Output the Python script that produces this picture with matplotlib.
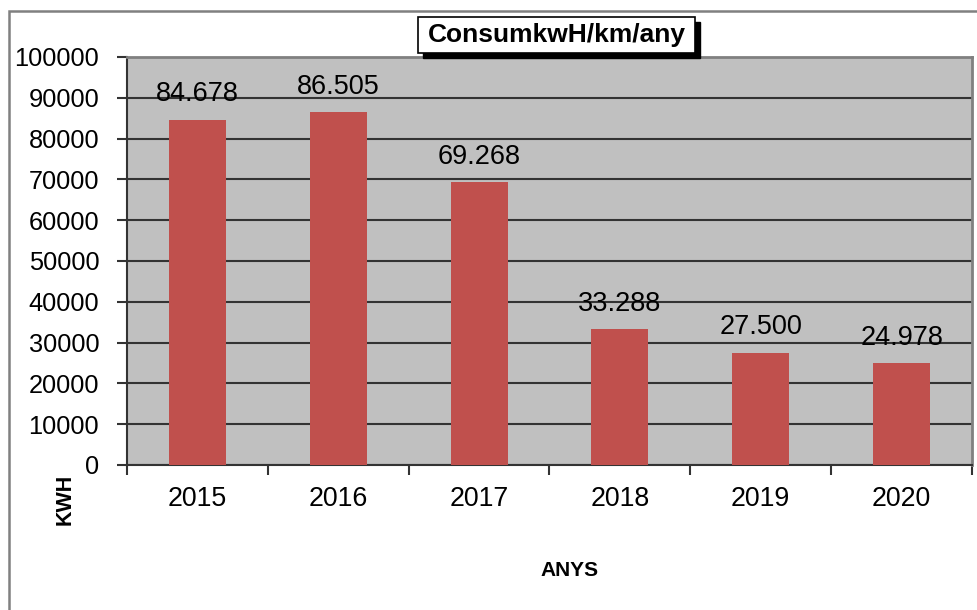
import matplotlib
matplotlib.use("Agg")
import matplotlib.pyplot as plt
from matplotlib.patches import Rectangle
import numpy as np

years = ["2015", "2016", "2017", "2018", "2019", "2020"]
values = [84678, 86505, 69268, 33288, 27500, 24978]
value_labels = ["84.678", "86.505", "69.268", "33.288", "27.500", "24.978"]
yticks = [0, 10000, 20000, 30000, 40000, 50000, 60000, 70000, 80000, 90000, 100000]

plt.rcParams['font.family'] = ['Liberation Sans', 'DejaVu Sans']

W, H = 978, 610
fig = plt.figure(figsize=(W / 100, H / 100), dpi=100)
fig.patch.set_facecolor('white')

# outer frame
fig.add_artist(Rectangle((9 / W, -0.05), 1.1, (H - 11) / H + 0.05, transform=fig.transFigure,
                         fill=False, edgecolor='#808080', linewidth=1.8))

left, right, top, bottom = 127, 972, 57, 465
ax = fig.add_axes([left / W, 1 - bottom / H, (right - left) / W, (bottom - top) / H])
ax.set_facecolor('#C0C0C0')

x = np.arange(len(years))
ax.bar(x, values, width=0.405, color='#C0504D', zorder=3)
for xi, v, lab in zip(x, values, value_labels):
    ax.annotate(lab, (xi, v), xytext=(0, 9), textcoords='offset points',
                ha='center', va='bottom', fontsize=19.5, color='black', zorder=4)

ax.set_xlim(-0.5, len(years) - 0.5)
ax.set_ylim(0, 100000)
ax.set_yticks(yticks)
ax.set_yticklabels([str(t) for t in yticks], fontsize=18.3)
ax.yaxis.grid(True, color='#333333', linewidth=1.5, zorder=1)
ax.set_axisbelow(True)

ax.set_xticks(x)
ax.set_xticklabels(years, fontsize=19.3)
ax.set_xticks(np.arange(-0.5, len(years)), minor=True)
ax.tick_params(axis='x', which='major', length=0, pad=15)
ax.tick_params(axis='x', which='minor', length=7, width=1.5, color='#333333')
ax.tick_params(axis='y', which='major', length=7, width=1.5, color='#333333', pad=13)

for s in ['top', 'right']:
    ax.spines[s].set_color('#808080')
    ax.spines[s].set_linewidth(2)
for s in ['left', 'bottom']:
    ax.spines[s].set_color('#333333')
    ax.spines[s].set_linewidth(1.5)

# axis labels
fig.text(65 / W, 1 - 499 / H, 'KWH', rotation=90, ha='center', va='center',
         fontsize=15.5, fontweight='bold')
fig.text(570 / W, 1 - 570 / H, 'ANYS', ha='center', va='center',
         fontsize=15, fontweight='bold')

# title box with shadow
bx0, by0, bx1, by1 = 418, 17, 695, 53
fig.add_artist(Rectangle(((bx0 + 5) / W, 1 - (by1 + 5) / H), (bx1 - bx0) / W, (by1 - by0) / H,
                         transform=fig.transFigure, facecolor='black', edgecolor='black', zorder=5))
fig.add_artist(Rectangle((bx0 / W, 1 - by1 / H), (bx1 - bx0) / W, (by1 - by0) / H,
                         transform=fig.transFigure, facecolor='white', edgecolor='black',
                         linewidth=1.2, zorder=6))
fig.text((bx0 + bx1) / 2 / W, 1 - (by0 + by1) / 2 / H, 'ConsumkwH/km/any', ha='center',
         va='center', fontsize=19, fontweight='bold', zorder=7)

fig.savefig('out.png', dpi=100)
